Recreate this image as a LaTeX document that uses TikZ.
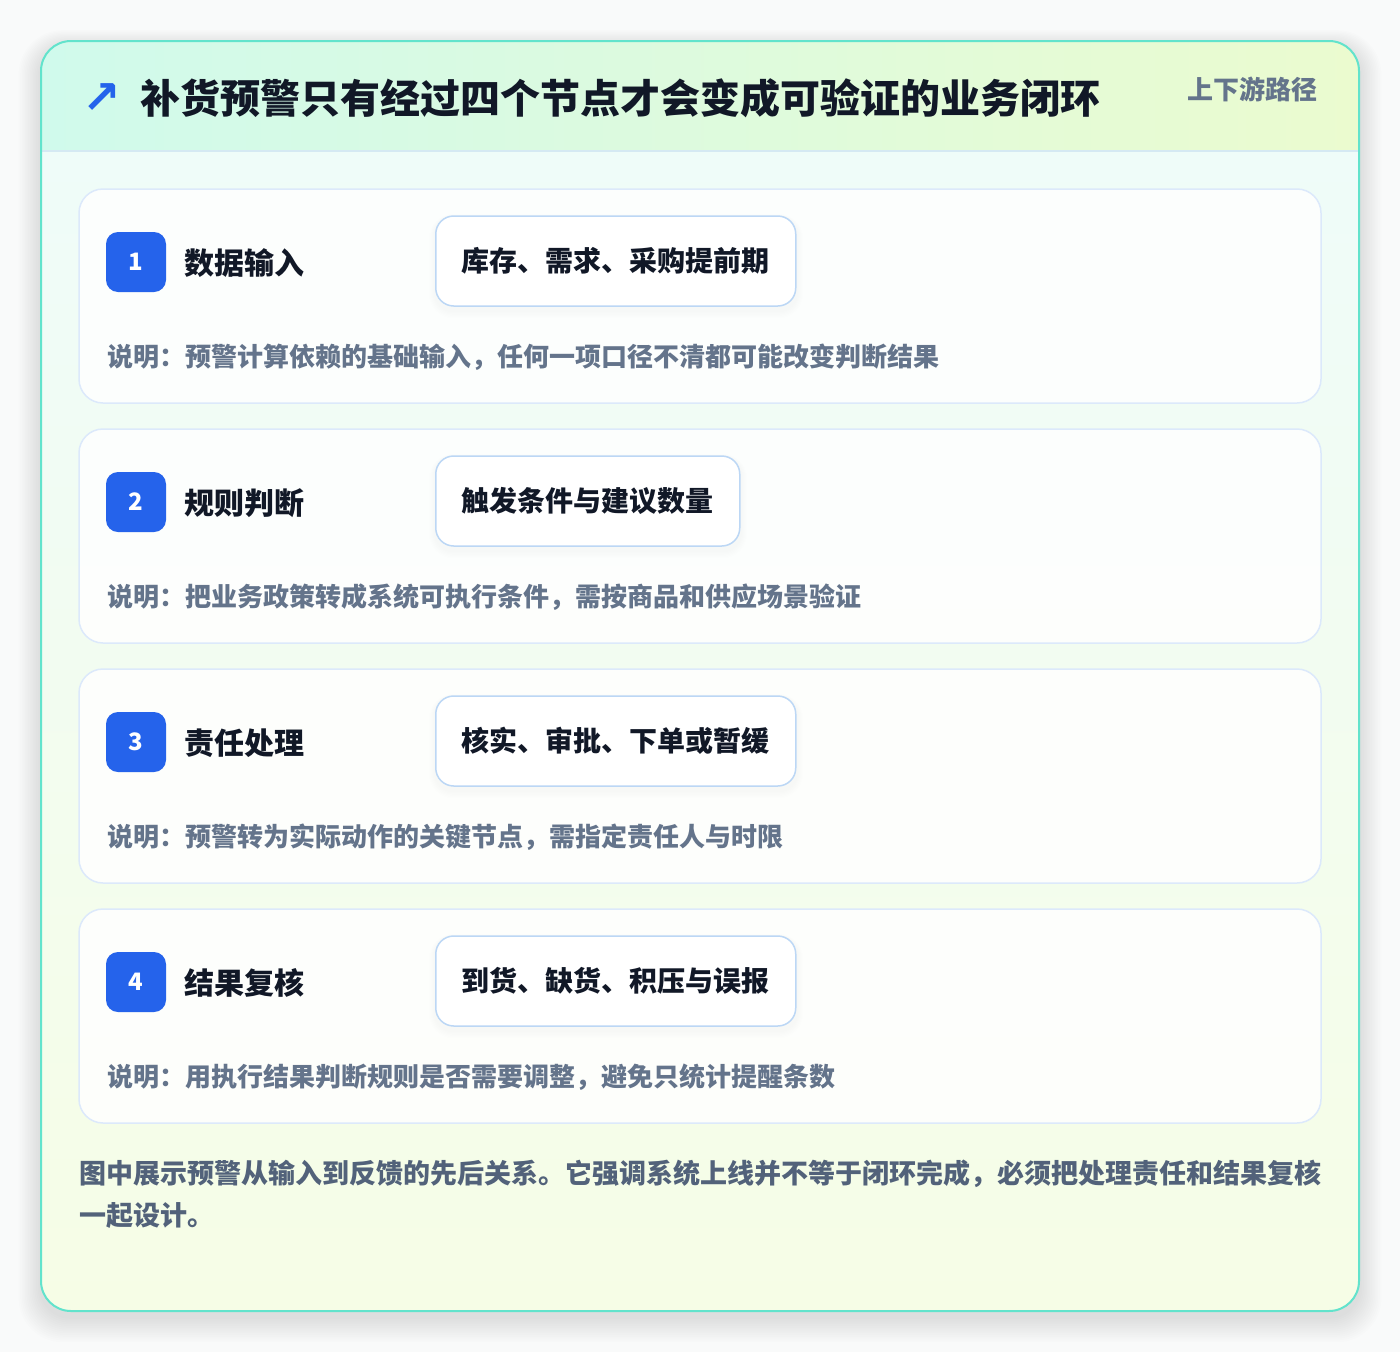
\documentclass[tikz,border=0pt]{standalone}
\usepackage{fontspec}
\setmainfont{Noto Sans CJK SC}
\newfontfamily\symfont{DejaVu Sans}
\usetikzlibrary{positioning}

\definecolor{pagebg}{HTML}{F9FAFA}
\definecolor{frameline}{HTML}{62E3CC}
\definecolor{headleft}{HTML}{D0FAEC}
\definecolor{headright}{HTML}{EBFBCF}
\definecolor{bodytop}{HTML}{EFFCF9}
\definecolor{bodybottom}{HTML}{F6FDE6}
\definecolor{headrule}{HTML}{D5E9F3}
\definecolor{stepline}{HTML}{DCE9FB}
\definecolor{pillline}{HTML}{BCD7F5}
\definecolor{badgeblue}{HTML}{2563EB}
\definecolor{inkdark}{HTML}{111827}
\definecolor{inkgray}{HTML}{64748B}
\definecolor{inknote}{HTML}{52627A}

\tikzset{
  stepcard/.style={draw=stepline, line width=1.5pt, fill=white, fill opacity=0.85, rounded corners=24pt},
  badge/.style={fill=badgeblue, rounded corners=12pt, minimum width=60pt, minimum height=60pt,
    inner sep=0pt, text=white, font=\bfseries\fontsize{24}{28}\selectfont},
  steptitle/.style={anchor=west, inner sep=0pt, text=inkdark, font=\bfseries\fontsize{30}{36}\selectfont},
  pill/.style={anchor=west, draw=pillline, line width=1.5pt, fill=white, rounded corners=18pt,
    inner xsep=26pt, minimum height=90pt, text=inkdark, font=\bfseries\fontsize{28}{34}\selectfont},
  stepnote/.style={anchor=west, inner sep=0pt, text=inkgray, font=\bfseries\fontsize{26}{30}\selectfont}
}

\begin{document}
\begin{tikzpicture}[x=1pt, y=-1pt]
  \useasboundingbox[fill=pagebg] (0,0) rectangle (1400,1352);

  % soft shadow under the frame
  \foreach \s in {1,...,14}
    \fill[black, opacity=0.006, rounded corners=30pt+\s pt]
      (41-1.6*\s,47-1.2*\s) rectangle (1359+1.6*\s,1317+1.8*\s);

  % frame body and header band
  \begin{scope}
    \clip[rounded corners=30pt] (41,41) rectangle (1359,1311);
    \shade[top color=bodytop, bottom color=bodybottom] (41,151) rectangle (1359,1311);
    \shade[left color=headleft, right color=headright] (41,41) rectangle (1359,151);
    \draw[headrule, line width=1.5pt] (41,151) -- (1359,151);
  \end{scope}
  \draw[frameline, line width=2pt, rounded corners=30pt] (41,41) rectangle (1359,1311);

  % header
  \node[anchor=center, inner sep=0pt, text=badgeblue, font=\symfont\bfseries\fontsize{46}{50}\selectfont]
    (icon) at (102,99) {↗};
  \node[anchor=west, inner sep=0pt, text=inkdark, font=\bfseries\fontsize{40}{48}\selectfont]
    (title) at (140,98) {补货预警只有经过四个节点才会变成可验证的业务闭环};
  \node[anchor=east, inner sep=0pt, text=inkgray, font=\bfseries\fontsize{26}{30}\selectfont]
    (tag) at (1318,89) {上下游路径};

  % four steps
  \foreach \n/\name/\keys/\note [count=\k from 0] in {
      1/数据输入/库存、需求、采购提前期/说明：预警计算依赖的基础输入，任何一项口径不清都可能改变判断结果,
      2/规则判断/触发条件与建议数量/说明：把业务政策转成系统可执行条件，需按商品和供应场景验证,
      3/责任处理/核实、审批、下单或暂缓/说明：预警转为实际动作的关键节点，需指定责任人与时限,
      4/结果复核/到货、缺货、积压与误报/说明：用执行结果判断规则是否需要调整，避免只统计提醒条数} {
    \pgfmathsetmacro{\top}{189+240*\k}
    \pgfmathsetmacro{\pillend}{\n==2 ? 741 : 797}
    \draw[stepcard] (79,\top) rectangle (1321,\top+214);
    \foreach \s in {1,...,6}
      \fill[black, opacity=0.005, rounded corners=18pt+\s pt]
        (435-\s,\top+28-0.5*\s) rectangle (\pillend+\s,\top+122+1.2*\s);
    \node[badge] (badge\n) at (136,\top+73) {\n};
    \node[steptitle] (name\n) at (184,\top+74) {\name};
    \node[pill] (keys\n) at (435,\top+72) {\keys};
    \node[stepnote] (note\n) at (107,\top+168) {\note};
  }

  % closing remark
  \node[anchor=north west, inner sep=0pt, text=inknote, align=left,
    font=\bfseries\fontsize{27}{42}\selectfont] (remark) at (79,1160)
    {图中展示预警从输入到反馈的先后关系。它强调系统上线并不等于闭环完成，必须把处理责任和结果复核\\一起设计。};
\end{tikzpicture}
\end{document}
